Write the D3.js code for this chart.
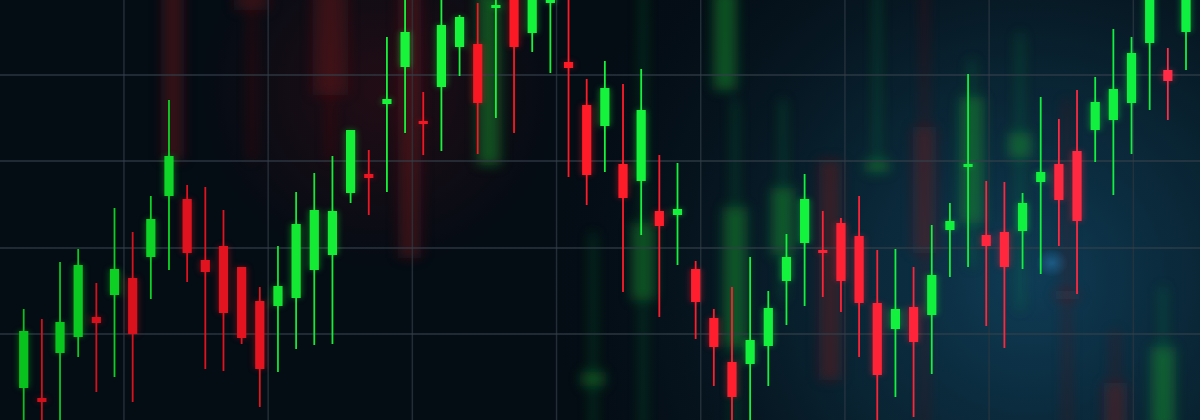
<!DOCTYPE html>
<html>
<head>
<meta charset="utf-8">
<script src="https://cdn.jsdelivr.net/npm/d3@7"></script>
<style>
  html, body { margin: 0; padding: 0; background: #040c14; overflow: hidden; }
  svg { display: block; }
</style>
</head>
<body>
<div id="chart"></div>
<script>
// candle data, one entry per session
var sessions = d3.range(1, 66);
var opens  = [108, 105.5, 116.75, 120.75, 125.75, 131.25, 135.5, 140.75, 156, 155.25,
  140, 143.5, 138.25, 129.75, 128.5, 130.5, 137.5, 141.25, 156.75, 161.5,
  179, 188.25, 174.75, 183.25, 193.25, 194, 203, 206.25, 196.75, 204.25,
  189.5, 178.75, 173.5, 164, 159.75, 152.25, 151.25, 137.75, 125.5, 114.5,
  114, 118.5, 134.75, 144.25, 142.5, 149.25, 146, 129.25, 122.75, 128.25,
  126.25, 147.5, 163.25, 146.25, 147, 147.25, 159.5, 164, 167.25, 172.5,
  175, 179.25, 194.25, 187.5, 197];
var closes = [122.25, 104.5, 124.5, 138.75, 124.25, 137.75, 121.5, 150.25, 166, 141.75,
  137, 126.75, 120.5, 112.75, 133.5, 149, 152.5, 152.25, 172.5, 160.5,
  180.25, 197, 174.25, 198.75, 200.75, 179.25, 203.75, 193.25, 207.5, 208,
  188, 161.25, 183, 155.5, 177.5, 148.5, 152.75, 129.5, 118.25, 105.75,
  120, 128, 140.75, 155.25, 142, 134.75, 129.25, 111.25, 127.75, 119.5,
  136.25, 149.75, 164, 143.5, 138.25, 154.25, 162, 155, 149.75, 179.5,
  182.75, 191.75, 207.5, 184.75, 207];
var highs  = [127.75, 125.25, 139.5, 142.75, 134.25, 153, 147, 156, 180, 158.75,
  158.25, 152.5, 138.25, 133.25, 143.5, 157, 161.75, 166, 172.5, 167.5,
  195.75, 207, 182, 207.5, 201.25, 204.25, 208.75, 210, 212.5, 210,
  208.75, 185.25, 189.75, 184, 187.75, 166.25, 164.25, 139.75, 127.75, 133.25,
  140.75, 132.25, 146.5, 161.5, 152.25, 150.5, 156, 142.5, 142.75, 138.25,
  148.75, 154.25, 186.5, 159.75, 159.5, 156.75, 180.75, 175.25, 182.5, 185.75,
  197.75, 195.75, 211.25, 193, 211.25];
var lows   = [98.75, 98, 97.5, 115.75, 107, 110.75, 104.5, 130.25, 137.5, 134.5,
  112.75, 112.25, 119, 103.25, 112, 117.75, 118.75, 119, 154.25, 151.25,
  157, 171.75, 166.25, 167.25, 186, 166.5, 175.5, 171.75, 192, 186.75,
  160.75, 153.75, 162, 132, 146.25, 125.75, 138.75, 120.25, 108.5, 97.5,
  97.5, 108.5, 123.75, 128.5, 130.75, 127, 115.75, 97.5, 105.75, 100.75,
  111.5, 135.75, 138.25, 123.5, 118, 137.75, 136.5, 143.5, 131.5, 164.5,
  156.25, 166.5, 177.5, 175, 187.5];

// blurred candles in the background (position in session units)
var ghostPos   = [8.22, 12.57, 16.87, 21.27, 25.62, 31.35, 34.1, 38.62, 39.17, 41.8,
  44.4, 47.0, 49.6, 52.2, 54.86, 57.45, 60.1, 62.74];
var ghostUp    = [false, false, false, false, true, true, true, true, true, true,
  false, true, false, true, true, false, false, true];
var ghostTop   = [207.5, 207.5, 207.5, 207.5, 207.5, 112, 149.25, 207.5, 153.25, 158,
  165, 165, 173.25, 180.75, 171.75, 132.5, 109.25, 118.25];
var ghostBot   = [165, 202.5, 181.25, 140.5, 163.75, 108.5, 130, 182.5, 118.25, 141.25,
  110, 162, 141.75, 149.25, 165.75, 130, 97.5, 97.5];
var ghostHigh  = [207.5, 207.5, 207.5, 207.5, 207.5, 146.75, 207.5, 207.5, 180, 180,
  165, 207.5, 207.5, 190, 196.75, 180, 122.5, 133.25];
var ghostLow   = [165, 165, 165, 140.5, 163.75, 97.5, 97.5, 182.5, 97.5, 130,
  110, 162, 97.5, 138.25, 127.5, 97.5, 97.5, 97.5];

// grid
var gridCols = [5.52, 13.46, 21.4, 29.34, 37.28, 45.22, 53.16, 61.1];
var gridRows = [121.5, 143, 164.75, 186.25];

var svgWidth = 1200;
var svgHeight = 420;

var svg = d3.select("#chart")
  .append("svg")
  .attr("width", svgWidth)
  .attr("height", svgHeight);

var x = d3.scaleLinear().domain([0, 64]).range([23.7, 1186]);
var y = d3.scaleLinear().domain([100, 205]).range([420, 0]);

var defs = svg.append("defs");

var glow = defs.append("radialGradient")
  .attr("id", "blueGlow")
  .attr("gradientUnits", "userSpaceOnUse")
  .attr("cx", 1030).attr("cy", 280).attr("r", 480);
glow.append("stop").attr("offset", "0%").attr("stop-color", "#0f3c56").attr("stop-opacity", 1);
glow.append("stop").attr("offset", "45%").attr("stop-color", "#0a2838").attr("stop-opacity", 0.8);
glow.append("stop").attr("offset", "100%").attr("stop-color", "#061520").attr("stop-opacity", 0);

var redGlow = defs.append("radialGradient")
  .attr("id", "redGlow")
  .attr("gradientUnits", "userSpaceOnUse")
  .attr("cx", 380).attr("cy", 90).attr("r", 180);
redGlow.append("stop").attr("offset", "0%").attr("stop-color", "#3a0d16").attr("stop-opacity", 0.55);
redGlow.append("stop").attr("offset", "100%").attr("stop-color", "#3a0d16").attr("stop-opacity", 0);

var dot = defs.append("radialGradient").attr("id", "blueDot");
dot.append("stop").attr("offset", "0%").attr("stop-color", "#1f5f8a").attr("stop-opacity", 0.9);
dot.append("stop").attr("offset", "100%").attr("stop-color", "#1f5f8a").attr("stop-opacity", 0);

defs.append("filter").attr("id", "blur")
  .attr("x", "-100%").attr("y", "-20%").attr("width", "300%").attr("height", "140%")
  .append("feGaussianBlur").attr("stdDeviation", 6);

defs.append("filter").attr("id", "soft")
  .attr("x", "-100%").attr("y", "-20%").attr("width", "300%").attr("height", "140%")
  .append("feGaussianBlur").attr("stdDeviation", 3);

// background
svg.append("rect").attr("width", svgWidth).attr("height", svgHeight).attr("fill", "#040c14");
svg.append("rect").attr("width", svgWidth).attr("height", svgHeight).attr("fill", "url(#blueGlow)");
svg.append("rect").attr("width", svgWidth).attr("height", svgHeight).attr("fill", "url(#redGlow)");
svg.append("ellipse").attr("cx", 1052).attr("cy", 263).attr("rx", 16).attr("ry", 14).attr("fill", "url(#blueDot)");

// background candles
var ghosts = ghostPos.map(function(p, i) {
  return { pos: p, up: ghostUp[i], top: ghostTop[i], bot: ghostBot[i], high: ghostHigh[i], low: ghostLow[i] };
});

var ghostGroup = svg.append("g").attr("filter", "url(#blur)");

ghostGroup.selectAll(".ghostWick")
  .data(ghosts)
  .enter()
  .append("rect")
  .attr("x", d => x(d.pos) - 3)
  .attr("width", 6)
  .attr("y", d => y(d.high))
  .attr("height", d => y(d.low) - y(d.high))
  .attr("fill", d => d.up ? "#1a8a2a" : "#7a1522")
  .attr("opacity", 0.3);

ghostGroup.selectAll(".ghostBody")
  .data(ghosts)
  .enter()
  .append("rect")
  .attr("x", (d, i) => x(d.pos) - (i === 1 || i === 2 ? 18 : 12))
  .attr("width", (d, i) => i === 1 || i === 2 ? 36 : 24)
  .attr("y", d => y(d.top))
  .attr("height", d => Math.max(8, y(d.bot) - y(d.top)))
  .attr("fill", d => d.up ? "#1e9a30" : "#7a1522")
  .attr("opacity", d => d.up ? 0.4 : 0.3);

// grid
svg.append("g").selectAll("line")
  .data(gridCols)
  .enter()
  .append("line")
  .attr("x1", d => x(d)).attr("x2", d => x(d))
  .attr("y1", 0).attr("y2", svgHeight)
  .attr("stroke", "#2a3640")
  .attr("stroke-width", 1.5)
  .attr("opacity", 0.8);

svg.append("g").selectAll("line")
  .data(gridRows)
  .enter()
  .append("line")
  .attr("x1", 0).attr("x2", svgWidth)
  .attr("y1", d => y(d)).attr("y2", d => y(d))
  .attr("stroke", "#34414b")
  .attr("stroke-width", 1.5)
  .attr("opacity", 0.8);

// candles
var candles = sessions.map(function(s, i) {
  return { i: i, open: opens[i], close: closes[i], high: highs[i], low: lows[i] };
});

var greenCol = d3.scaleLinear().domain([0, 20, 64]).range(["#09c21d", "#17f43a", "#10f040"]);
var redCol = d3.scaleLinear().domain([0, 30, 64]).range(["#d0101c", "#ff1a26", "#ff2c48"]);
function col(d) {
  return d.close >= d.open ? greenCol(d.i) : redCol(d.i);
}

// soft glow copy
var glowGroup = svg.append("g").attr("filter", "url(#soft)").attr("opacity", 0.35);
glowGroup.selectAll("rect")
  .data(candles)
  .enter()
  .append("rect")
  .attr("x", d => x(d.i) - 6)
  .attr("width", 12)
  .attr("y", d => y(Math.max(d.open, d.close)))
  .attr("height", d => Math.max(3, Math.abs(y(d.open) - y(d.close))))
  .attr("fill", col);

var candleGroup = svg.append("g");

candleGroup.selectAll(".wick")
  .data(candles)
  .enter()
  .append("line")
  .classed("wick", true)
  .attr("x1", d => x(d.i)).attr("x2", d => x(d.i))
  .attr("y1", d => y(d.high))
  .attr("y2", d => y(d.low))
  .attr("stroke", col)
  .attr("stroke-width", 1.8);

candleGroup.selectAll(".body")
  .data(candles)
  .enter()
  .append("rect")
  .classed("body", true)
  .attr("x", d => x(d.i) - 4.6)
  .attr("width", 9.2)
  .attr("y", d => y(Math.max(d.open, d.close)))
  .attr("height", d => Math.max(3, Math.abs(y(d.open) - y(d.close))))
  .attr("fill", col);
</script>
</body>
</html>
